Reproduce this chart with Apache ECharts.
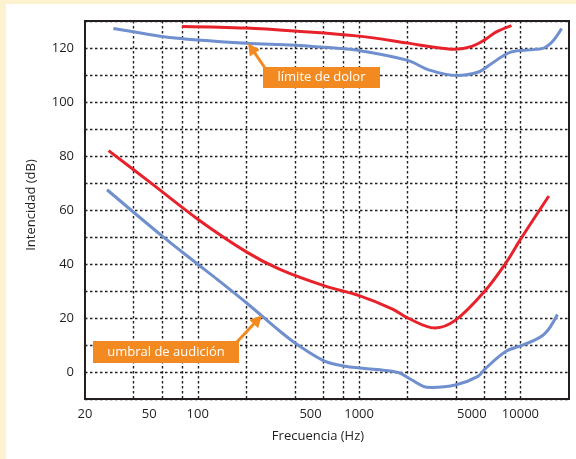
<!DOCTYPE html>
<html>
<head>
<meta charset="utf-8">
<script src="https://cdn.jsdelivr.net/npm/echarts@6/dist/echarts.min.js"></script>
<style>
body{margin:0;background:#fdf2cf;}
#wrap{position:relative;width:576px;height:459px;background:#fdf2cf;overflow:hidden;}
#main{position:absolute;left:6px;top:4px;width:570px;height:455px;background:#fff;}
</style>
</head>
<body>
<div id="wrap"><div id="main"></div></div>
<script>
// tick labels and grid positions (Hz)
var xLabelFreqs = [20, 50, 100, 500, 1000, 5000, 10000];
var xGridFreqs = [40, 60, 80, 100, 200, 400, 600, 800, 1000, 2000, 4000, 6000, 8000, 10000];

// limite de dolor
var painFreqRed = [80, 200, 400, 1000, 2000, 3000, 3900, 5000, 6000, 7000, 8800];
var painDbRed = [128, 127.4, 126.3, 124.4, 121.8, 120.2, 119.5, 120.6, 123, 125.8, 128.3];
var painFreqBlue = [30, 40, 60, 100, 200, 400, 800, 1000, 2000, 2700, 4000, 5500, 6600, 8700, 12000, 14000, 16000, 18000];
var painDbBlue = [127.2, 126, 124.3, 123, 121.8, 121, 119.7, 119.1, 115.4, 111.9, 109.8, 111.1, 114.2, 118.5, 119.4, 120, 122.8, 127.2];

// umbral de audicion
var hearFreqRed = [28, 50, 100, 200, 323, 617, 1000, 1600, 2000, 2958, 4000, 6000, 8150, 10000, 15000];
var hearDbRed = [82, 70.5, 56.6, 44.5, 38, 31.8, 28.3, 23.4, 20, 16.3, 19.4, 29.9, 40.5, 49.1, 65.2];
var hearFreqBlue = [27.4, 60, 100, 132, 206, 323, 429, 617, 820, 1000, 1300, 1750, 2100, 2500, 2800, 4000, 5456, 6020, 8150, 10500, 14000, 16950];
var hearDbBlue = [67.5, 50.4, 39.9, 34.3, 25, 15.1, 9.5, 3.9, 2.1, 1.5, 0.9, -0.2, -2.8, -5.3, -5.7, -4.7, -1.6, 1.1, 7.7, 10.1, 13.9, 21.3];

var RED = '#e8222a';
var BLUE = '#6f8fcf';
var ORANGE = '#f28a21';
var FONT = '"Open Sans", "Noto Sans", sans-serif';

function pts(freqs, dbs) {
	return freqs.map(function (f, i) { return [Math.log10(f), dbs[i]]; });
}
function logs(arr) {
	return arr.map(function (f) { return Math.log10(f); });
}
function curve(name, color, data) {
	return {
		name: name,
		type: 'line',
		data: data,
		smooth: 0.35,
		showSymbol: false,
		lineStyle: {color: color, width: 3},
		z: 3
	};
}

var myChart = echarts.init(document.getElementById('main'));

var option = {
	animation: false,
	grid: {
		left: 79, right: 7, top: 17, bottom: 60,
		show: true, borderColor: '#231f20', borderWidth: 2, backgroundColor: 'transparent'
	},
	xAxis: {
		type: 'value',
		min: Math.log10(20),
		max: Math.log10(20000),
		name: 'Frecuencia (Hz)',
		nameLocation: 'middle',
		nameGap: 31,
		nameTextStyle: {fontFamily: FONT, fontSize: 13, color: '#231f20', padding: [0, 18, 0, 0]},
		axisLine: {show: false},
		axisTick: {show: false, customValues: logs(xGridFreqs)},
		axisLabel: {
			customValues: logs(xLabelFreqs),
			margin: 9,
			fontFamily: FONT, fontSize: 13, color: '#231f20',
			formatter: function (v) { return String(Math.round(Math.pow(10, v))); }
		},
		splitLine: {show: true, lineStyle: {color: '#231f20', width: 1.4, type: [2.5, 2.5]}}
	},
	yAxis: {
		type: 'value',
		min: -10,
		max: 130,
		interval: 10,
		name: 'Intencidad (dB)',
		nameLocation: 'middle',
		nameGap: 47,
		nameTextStyle: {fontFamily: FONT, fontSize: 13, color: '#231f20', padding: [0, 0, 0, 10]},
		axisLine: {show: false},
		axisTick: {show: false},
		axisLabel: {
			margin: 11,
			fontFamily: FONT, fontSize: 13, color: '#231f20',
			formatter: function (v) { return (v >= 0 && v <= 120 && v % 20 === 0) ? String(v) : ''; }
		},
		splitLine: {show: true, lineStyle: {color: '#231f20', width: 1.4, type: [2.5, 2.5]}}
	},
	series: [
		curve('dolor rojo', RED, pts(painFreqRed, painDbRed)),
		curve('dolor azul', BLUE, pts(painFreqBlue, painDbBlue)),
		curve('umbral rojo', RED, pts(hearFreqRed, hearDbRed)),
		curve('umbral azul', BLUE, pts(hearFreqBlue, hearDbBlue))
	]
};

myChart.setOption(option);

// annotation boxes with arrows pointing at the blue curves
function arrow(tail, tip) {
	var dx = tip[0] - tail[0], dy = tip[1] - tail[1];
	var len = Math.sqrt(dx * dx + dy * dy);
	var ux = dx / len, uy = dy / len;
	var hl = 12, hw = 6;
	var bx = tip[0] - ux * hl, by = tip[1] - uy * hl;
	return [
		{type: 'line', shape: {x1: tail[0], y1: tail[1], x2: bx + ux * 2, y2: by + uy * 2},
		 style: {stroke: ORANGE, lineWidth: 3}, z: 10},
		{type: 'polygon', shape: {points: [tip, [bx - uy * hw, by + ux * hw], [bx + uy * hw, by - ux * hw]]},
		 style: {fill: ORANGE}, z: 10}
	];
}
function label(x, y, w, h, text) {
	return {
		type: 'group', x: x, y: y, z: 10,
		children: [
			{type: 'rect', shape: {x: 0, y: 0, width: w, height: h}, style: {fill: ORANGE}},
			{type: 'text', x: w / 2, y: h / 2,
			 style: {text: text, fill: '#fff', font: '13px ' + FONT, align: 'center', verticalAlign: 'middle'}}
		]
	};
}

var tipPain = myChart.convertToPixel({gridIndex: 0}, [Math.log10(205), 121.8]);
var tipHear = myChart.convertToPixel({gridIndex: 0}, [Math.log10(250), 21]);

var graphics = [];
graphics = graphics.concat(arrow([259, 64], tipPain));
graphics.push(label(257, 63, 117, 21, 'límite de dolor'));
graphics = graphics.concat(arrow([230, 339], tipHear));
graphics.push(label(87, 337, 146, 22, 'umbral de audición'));

myChart.setOption({graphic: graphics});
</script>
</body>
</html>
